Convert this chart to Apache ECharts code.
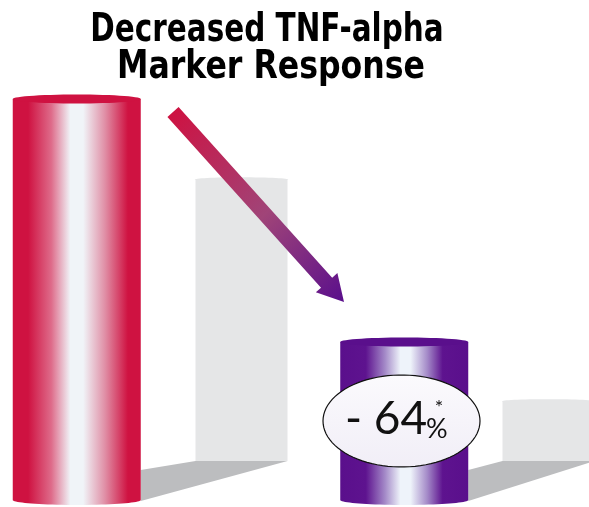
<!DOCTYPE html>
<html>
<head>
<meta charset="utf-8">
<script src="https://cdn.jsdelivr.net/npm/echarts@6/dist/echarts.min.js"></script>
<style>
html, body { margin: 0; padding: 0; background: #fff; }
#chart { width: 589px; height: 507px; }
</style>
</head>
<body>
<div id="chart"></div>
<script>
// data
var groups = ['Baseline', 'Treatment'];
var frontValues = [100, 39.4];   // red / purple cylinders
var backValues = [70.6, 15];     // grey comparison bars behind
var titleLines = ['Decreased TNF-alpha', 'Marker Response'];
var changeText = '- 64';

// cylinder gradients (left to right)
var frontStops = [
    [[0, '#CF1241'], [0.12, '#CF1241'], [0.3, '#DE6A89'], [0.45, '#F0F4F8'], [0.55, '#F0F4F8'], [0.72, '#E08FA6'], [0.9, '#CF1241'], [1, '#CF1241']],
    [[0, '#5A0F8C'], [0.2, '#5E138F'], [0.35, '#A48AC8'], [0.47, '#EEF3FA'], [0.55, '#EEF3FA'], [0.68, '#A48AC8'], [0.8, '#5E138F'], [1, '#5A0F8C']]
];
var capColors = ['#CF1241', '#5A0F8C'];

function ellipsePts(cx, cy, rx, ry, a0, a1, n) {
    var pts = [];
    for (var k = 0; k <= n; k++) {
        var t = a0 + (a1 - a0) * k / n;
        pts.push([cx + rx * Math.cos(t), cy + ry * Math.sin(t)]);
    }
    return pts;
}

function gradient(stops) {
    return new echarts.graphic.LinearGradient(0, 0, 1, 0, stops.map(function (s) {
        return { offset: s[0], color: s[1] };
    }));
}

// front cylinder
function renderCylinder(params, api) {
    var i = api.value(0);
    var top = api.coord([i, api.value(1)]);
    var base = api.coord([i, 0]);
    var rx = 64;
    var cx = top[0];
    var body = [[cx - rx, top[1]], [cx + rx, top[1]]]
        .concat(ellipsePts(cx, base[1], rx, 5, 0, Math.PI, 40));
    return {
        type: 'group',
        children: [
            { type: 'polygon', shape: { points: body }, style: { fill: gradient(frontStops[i]) } },
            { type: 'polygon', shape: { points: ellipsePts(cx, top[1], rx, 4.5, 0, Math.PI * 2, 60) }, style: { fill: capColors[i] } }
        ]
    };
}

// grey bar behind
function renderBack(params, api) {
    var i = api.value(0);
    var top = api.coord([i, api.value(1)]);
    var base = api.coord([i, 0]);
    var hw = 46;
    var cx = top[0];
    var pts = ellipsePts(cx, top[1], hw, 2, Math.PI, Math.PI * 2, 30)
        .concat([[cx + hw, base[1]], [cx - hw, base[1]]]);
    return { type: 'polygon', shape: { points: pts }, style: { fill: '#E5E6E7' } };
}

var chart = echarts.init(document.getElementById('chart'));

chart.setOption({
    backgroundColor: '#fff',
    animation: false,
    grid: [
        { left: -87, right: 21, top: 99, bottom: 7, outerBoundsMode: 'none' },
        { left: 88, right: -113, top: 62, bottom: 46, outerBoundsMode: 'none' }
    ],
    xAxis: [
        { type: 'category', gridIndex: 0, data: groups, show: false },
        { type: 'category', gridIndex: 1, data: groups, show: false }
    ],
    yAxis: [
        { type: 'value', gridIndex: 0, min: 0, max: 100, show: false },
        { type: 'value', gridIndex: 1, min: 0, max: 100, show: false }
    ],
    series: [
        {
            type: 'custom',
            xAxisIndex: 1, yAxisIndex: 1,
            renderItem: renderBack,
            encode: { x: 0, y: 1 },
            data: backValues.map(function (v, i) { return [i, v]; }),
            z: 2
        },
        {
            type: 'custom',
            xAxisIndex: 0, yAxisIndex: 0,
            renderItem: renderCylinder,
            encode: { x: 0, y: 1 },
            data: frontValues.map(function (v, i) { return [i, v]; }),
            z: 3
        }
    ]
});

// shadows from the front cylinders to the grey bars, from the axes' own scales
var shadows = groups.map(function (g, i) {
    var f = chart.convertToPixel({ gridIndex: 0 }, [i, 0]);
    var b = chart.convertToPixel({ gridIndex: 1 }, [i, 0]);
    return {
        type: 'polygon',
        z: 1,
        shape: { points: [[f[0] + 64, b[1] + 9], [b[0] - 46, b[1]], [b[0] + 46, b[1]], [f[0] + 64, f[1] + 1]] },
        style: { fill: '#BCBDBF' }
    };
});

// arrow
var T = [173, 112], P = [344, 302];
var dx = P[0] - T[0], dy = P[1] - T[1], len = Math.sqrt(dx * dx + dy * dy);
var d = [dx / len, dy / len], n = [-d[1], d[0]];
var H = [P[0] - d[0] * 26, P[1] - d[1] * 26];
function off(p, s) { return [p[0] + n[0] * s, p[1] + n[1] * s]; }
var arrowPts = [off(T, 7.5), off(H, 7.5), off(H, 14.5), P, off(H, -14.5), off(H, -7.5), off(T, -7.5)];

var labelFont = 'Lato, "Open Sans", sans-serif';
var titleFont = '"DejaVu Sans Condensed", "DejaVu Sans", sans-serif';

chart.setOption({
    graphic: shadows.concat([
        {
            type: 'polygon', z: 50,
            shape: { points: arrowPts },
            style: {
                fill: new echarts.graphic.LinearGradient(0, 0, 1, 1, [
                    { offset: 0, color: '#D0103F' },
                    { offset: 0.55, color: '#A04478' },
                    { offset: 1, color: '#5A0F8C' }
                ])
            }
        },
        {
            type: 'polygon', z: 60,
            shape: { points: ellipsePts(401.5, 421, 78.5, 46, 0, Math.PI * 2, 90) },
            style: {
                fill: new echarts.graphic.LinearGradient(0, 0, 0, 1, [
                    { offset: 0, color: '#FBFAFD' },
                    { offset: 1, color: '#F1EEF7' }
                ]),
                stroke: '#111', lineWidth: 1.2
            }
        },
        {
            type: 'text', z: 61, x: 345, y: 442,
            style: { text: changeText, font: '46px ' + labelFont, fill: '#111', align: 'left', verticalAlign: 'bottom' }
        },
        {
            type: 'text', z: 61, x: 426, y: 443,
            style: { text: '%', font: '27px ' + labelFont, fill: '#111', align: 'left', verticalAlign: 'bottom' }
        },
        {
            type: 'group', z: 61, x: 267, y: 50, scaleX: 0.84,
            children: [{
                type: 'text', z: 61,
                style: { text: titleLines[0], font: 'bold 39px ' + titleFont, fill: '#000', align: 'center', verticalAlign: 'bottom' }
            }]
        },
        {
            type: 'group', z: 61, x: 271, y: 87, scaleX: 0.9,
            children: [{
                type: 'text', z: 61,
                style: { text: titleLines[1], font: 'bold 39px ' + titleFont, fill: '#000', align: 'center', verticalAlign: 'bottom' }
            }]
        },
        {
            type: 'text', z: 61, x: 439, y: 418,
            style: { text: '*', font: '20px ' + labelFont, fill: '#111', align: 'center', verticalAlign: 'bottom' }
        }
    ])
});
</script>
</body>
</html>
